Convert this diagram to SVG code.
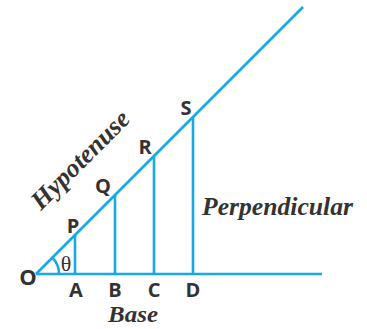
<svg xmlns="http://www.w3.org/2000/svg" width="367" height="329" viewBox="0 0 367 329">
<style>
.ln{stroke:#18a8e2;stroke-width:2.6;fill:none;stroke-linecap:butt}
.pt{font-family:"Open Sans","Liberation Sans",sans-serif;font-weight:bold;font-size:20px;fill:#333;text-anchor:middle}
.lb{font-family:"Liberation Serif",serif;font-weight:bold;font-style:italic;font-size:26px;fill:#333}
</style>
<g id="connectors">
<line class="ln" x1="36" y1="274" x2="322" y2="274"/>
<line class="ln" x1="36" y1="274" x2="303" y2="7"/>
<line class="ln" x1="75" y1="274" x2="75" y2="235"/>
<line class="ln" x1="115" y1="274" x2="115" y2="195"/>
<line class="ln" x1="154" y1="274" x2="154" y2="156"/>
<line class="ln" x1="193" y1="274" x2="193" y2="117"/>
<path class="ln" d="M59,274 A23,23 0 0 0 52.3,257.7"/>
</g>
<g id="O"><text class="pt" x="28" y="285" style="font-size:22px">O</text></g>
<g id="A"><text class="pt" x="76" y="297">A</text></g>
<g id="B"><text class="pt" x="115" y="297">B</text></g>
<g id="C"><text class="pt" x="154" y="297">C</text></g>
<g id="D"><text class="pt" x="193" y="297">D</text></g>
<g id="P"><text class="pt" x="73" y="233">P</text></g>
<g id="Q"><text class="pt" x="103" y="193">Q</text></g>
<g id="R"><text class="pt" x="145" y="154">R</text></g>
<g id="S"><text class="pt" x="186" y="115">S</text></g>
<g id="theta"><text x="66" y="271" style="font-family:'Liberation Serif',serif;font-size:22px;fill:#333;text-anchor:middle">θ</text></g>
<g id="hyp"><text class="lb" transform="translate(41,211) rotate(-45)" textLength="128" lengthAdjust="spacingAndGlyphs">Hypotenuse</text></g>
<g id="perp"><text class="lb" x="202" y="215" textLength="151" lengthAdjust="spacingAndGlyphs">Perpendicular</text></g>
<g id="base"><text class="lb" x="108" y="322" textLength="50" lengthAdjust="spacingAndGlyphs" style="font-size:24px">Base</text></g>
</svg>
